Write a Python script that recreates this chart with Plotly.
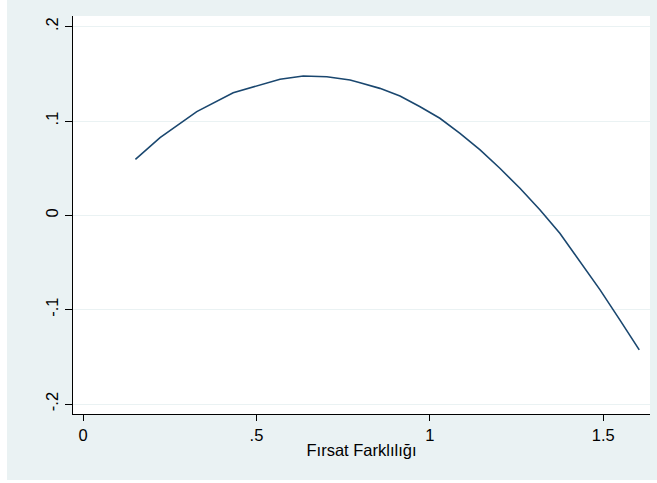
import plotly.graph_objects as go

x_vals = [0.151, 0.222, 0.328, 0.433, 0.568, 0.635, 0.703, 0.770, 0.799, 0.856,
          0.914, 0.972, 1.029, 1.087, 1.145, 1.202, 1.260, 1.318, 1.375, 1.433,
          1.491, 1.548, 1.604]
y_vals = [0.0594, 0.0823, 0.1099, 0.1300, 0.1442, 0.1477, 0.1469, 0.1434, 0.1406, 0.1346,
          0.1265, 0.1151, 0.1029, 0.0870, 0.0693, 0.0499, 0.0287, 0.0057, -0.0190, -0.0490,
          -0.0790, -0.1108, -0.1426]

x_tickvals = [0, 0.5, 1, 1.5]
x_ticktext = ["0", ".5", "1", "1.5"]
y_tickvals = [-0.2, -0.1, 0, 0.1, 0.2]
y_ticktext = ["-.2", "-.1", "0", ".1", ".2"]
x_title = "Fırsat Farklılığı"

BG = "#EAF2F3"
FONT = "Liberation Sans, Arial, sans-serif"
FS = 16.5

fig = go.Figure()
fig.add_trace(go.Scatter(x=x_vals, y=y_vals, mode="lines",
                         line=dict(color="#1a476f", width=1.6), showlegend=False))

W, H = 657, 483
L, R, T, B = 73, 7, 16, 69
pw, ph = W - L - R, H - T - B

fig.add_shape(type="rect", xref="paper", yref="paper", layer="below",
              x0=(7 - L) / pw, x1=(657 - L) / pw,
              y0=(H - B - 480) / ph, y1=(H - B - 0) / ph,
              fillcolor=BG, line=dict(width=0))
fig.add_shape(type="rect", xref="paper", yref="paper", layer="below",
              x0=0, x1=1, y0=0, y1=1, fillcolor="white", line=dict(width=0))

fig.update_layout(
    width=W, height=H,
    margin=dict(l=L, r=R, t=T, b=B),
    paper_bgcolor="white", plot_bgcolor="white",
    font=dict(family=FONT, size=FS, color="black"),
    xaxis=dict(range=[-0.029, 1.635], tickvals=x_tickvals, ticktext=x_ticktext,
               showgrid=False, zeroline=False, showline=True, linecolor="black",
               linewidth=1, ticks="outside", ticklen=6, tickcolor="black",
               title=dict(text=x_title, standoff=1, font=dict(size=FS))),
    yaxis=dict(range=[-0.2106, 0.2113], tickvals=y_tickvals, ticktext=y_ticktext,
               showgrid=True, gridcolor=BG, gridwidth=1, zeroline=False,
               showline=True, linecolor="black", linewidth=1,
               ticks="outside", ticklen=7, tickcolor="black", tickangle=-90),
)

fig.write_html("out.html", config={"displayModeBar": False},
               post_script="document.body.style.margin='0px';")
